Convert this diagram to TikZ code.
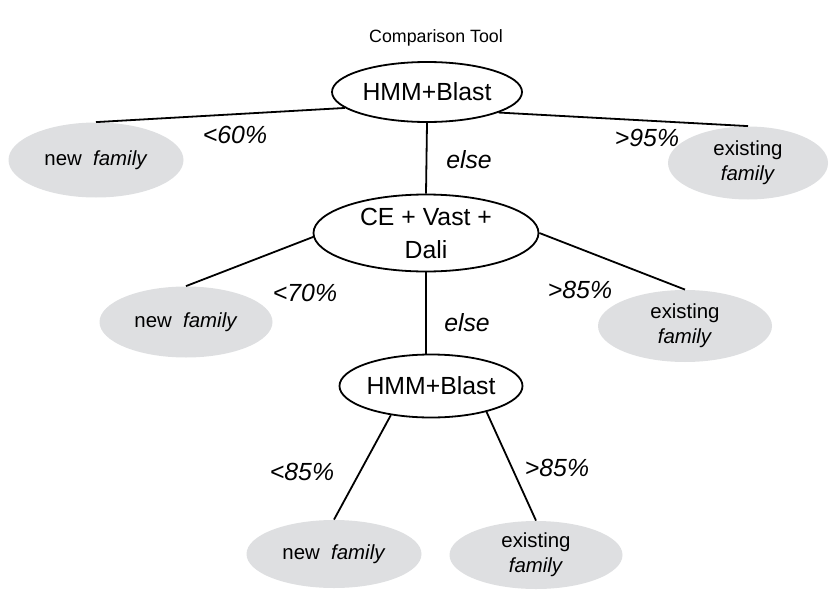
\documentclass[tikz,border=0pt]{standalone}
\usepackage{fontspec}
\setmainfont{Liberation Sans}
\usetikzlibrary{shapes.geometric}
\definecolor{leafgray}{RGB}{222,223,225}

\begin{document}
\begin{tikzpicture}[x=0.5pt,y=-0.5pt,
	test/.style={draw,ellipse,line width=0.9pt,fill=white,inner sep=0pt,align=center,font=\fontsize{12.4}{16.5}\selectfont},
	leaf/.style={ellipse,fill=leafgray,inner sep=0pt,align=center,font=\fontsize{10.2}{12.5}\selectfont},
	cut/.style={font=\fontsize{12.4}{15}\selectfont\itshape},
	branch/.style={line width=0.9pt}]
\useasboundingbox (0,0) rectangle (835,589);
\node (title) at (436,38) {\fontsize{8.9}{11}\selectfont Comparison Tool};
% decision steps
\node[test,minimum width=95pt,minimum height=30pt] (hbtop) at (427,92) {HMM+Blast};
\node[test,minimum width=112.5pt,minimum height=38.5pt] (cvd) at (426,233) {CE + Vast +\\Dali};
\node[test,minimum width=91.5pt,minimum height=31.5pt] (hbbot) at (431,386) {HMM+Blast};
% outcomes
\node[leaf,minimum width=87.5pt,minimum height=37.5pt] (newA) at (96,160) {new \ \textit{family}};
\node[leaf,minimum width=80pt,minimum height=36.5pt] (oldA) at (748,163) {existing\\\textit{family}};
\node[leaf,minimum width=86.5pt,minimum height=35.5pt] (newB) at (186,322) {new \ \textit{family}};
\node[leaf,minimum width=87pt,minimum height=36pt] (oldB) at (685,326) {existing\\\textit{family}};
\node[leaf,minimum width=87.5pt,minimum height=34pt] (newC) at (334,554) {new \ \textit{family}};
\node[leaf,minimum width=86.5pt,minimum height=34pt] (oldC) at (536,555) {existing\\\textit{family}};
% branches
\draw[branch] (hbtop.191) -- (newA.north);
\draw[branch] (hbtop.344) -- (oldA.north);
\draw[branch] (hbtop.south) -- (cvd.north);
\draw[branch] (cvd.182) -- (newB.north);
\draw[branch] (cvd.east) -- (oldB.north);
\draw[branch] (cvd.south) -- (hbbot.north-|cvd.south);
\draw[branch] (hbbot.216) -- (newC.north);
\draw[branch] (hbbot.335) -- (oldC.north);
% thresholds
\node[cut] (lt60) at (235,135) {<60\%};
\node[cut] (gt95) at (647,138) {>95\%};
\node[cut] (elseA) at (469,160) {else};
\node[cut] (lt70) at (305,293) {<70\%};
\node[cut] (gt85A) at (580,290) {>85\%};
\node[cut] (elseB) at (467,323) {else};
\node[cut] (lt85) at (302,472) {<85\%};
\node[cut] (gt85B) at (557,468) {>85\%};
\end{tikzpicture}
\end{document}
